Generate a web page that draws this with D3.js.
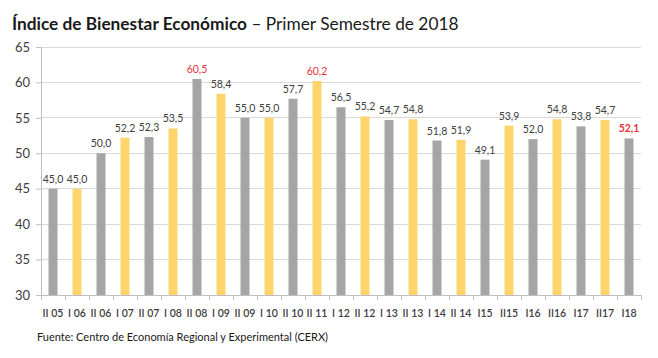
<!DOCTYPE html>
<html><head><meta charset="utf-8">
<script src="https://cdn.jsdelivr.net/npm/d3@7"></script>
<style>
body{margin:0;background:#fff;}
svg{display:block;font-family:Lato,"Open Sans",sans-serif;}
</style></head>
<body>
<svg id="chart" width="658" height="358"></svg>
<script>
const categories = ["II 05","I 06","II 06","I 07","II 07","I 08","II 08","I 09","II 09","I 10","II 10","II 11","I 12","II 12","I 13","II 13","I 14","II 14","I15","II15","I16","II16","I17","II17","I18"];
const values = [45.0,45.0,50.0,52.2,52.3,53.5,60.5,58.4,55.0,55.0,57.7,60.2,56.5,55.2,54.7,54.8,51.8,51.9,49.1,53.9,52.0,54.8,53.8,54.7,52.1];
const highlighted = [6,11,24];
const yTicks = [30,35,40,45,50,55,60,65];

(function(){
const svg = d3.select("#chart");
const mLeft = 41, mRight = 641, mTop = 47, mBottom = 295;
const x = d3.scaleBand().domain(categories).range([mLeft,mRight]).paddingInner(0.625).paddingOuter(0.3125);
const y = d3.scaleLinear().domain([30,65]).range([mBottom,mTop]);
const fmt = v => d3.format(".1f")(v).replace(".",",");

// gridlines
svg.append("g").selectAll("line").data(yTicks.slice(1)).join("line")
  .attr("x1",mLeft).attr("x2",mRight).attr("y1",d=>y(d)).attr("y2",d=>y(d))
  .attr("stroke","#d9d9d9").attr("stroke-width",1).attr("shape-rendering","crispEdges");

// bars
svg.append("g").selectAll("rect").data(values).join("rect")
  .attr("x",(d,i)=>x(categories[i])).attr("width",x.bandwidth())
  .attr("y",d=>y(d)).attr("height",d=>mBottom-y(d))
  .attr("fill",(d,i)=> i%2===0 ? "#a5a5a5" : "#fdd56b");

// y axis
const yAxis = d3.axisLeft(y).tickValues(yTicks).tickSize(5).tickPadding(6).tickFormat(d3.format("d"));
const gy = svg.append("g").attr("transform",`translate(${mLeft},0)`).call(yAxis);
gy.select(".domain").attr("stroke","#bfbfbf");
gy.selectAll(".tick line").attr("stroke","#bfbfbf");
gy.selectAll(".tick text").attr("fill","#404040").style("font-size","13px").style("font-family","Lato,sans-serif");

// x axis
const xAxis = d3.axisBottom(x).tickSize(0).tickPadding(15);
const gx = svg.append("g").attr("transform",`translate(0,${mBottom})`).call(xAxis);
gx.select(".domain").attr("stroke","#bfbfbf");
gx.selectAll(".tick text").attr("fill","#404040").style("font-size","10.5px").style("font-family","Lato,sans-serif").style("font-weight","600");
// category boundary ticks
svg.append("g").selectAll("line").data(d3.range(categories.length+1)).join("line")
  .attr("x1",i=>mLeft+i*(mRight-mLeft)/categories.length).attr("x2",i=>mLeft+i*(mRight-mLeft)/categories.length)
  .attr("y1",mBottom).attr("y2",mBottom+5).attr("stroke","#bfbfbf").attr("shape-rendering","crispEdges");

// data labels
svg.append("g").selectAll("text").data(values).join("text")
  .attr("x",(d,i)=>x(categories[i])+x.bandwidth()/2).attr("y",d=>y(d)-6)
  .attr("text-anchor","middle")
  .attr("fill",(d,i)=> highlighted.includes(i) ? "#e8323c" : "#404040")
  .style("font-weight",(d,i)=> i===24 ? "700":"400")
  .style("font-size","10.5px")
  .text(d=>fmt(d));

// title
const t = svg.append("text").attr("x",12).attr("y",30).style("font-size","17.3px").attr("fill","#1a1a1a");
t.append("tspan").style("font-weight","700").text("Índice de Bienestar Económico");
t.append("tspan").text(" – Primer Semestre de 2018");

// source
svg.append("text").attr("x",37).attr("y",341).style("font-size","11px").attr("fill","#1a1a1a")
  .text("Fuente: Centro de Economía Regional y Experimental (CERX)");
})();
</script>
</body></html>
